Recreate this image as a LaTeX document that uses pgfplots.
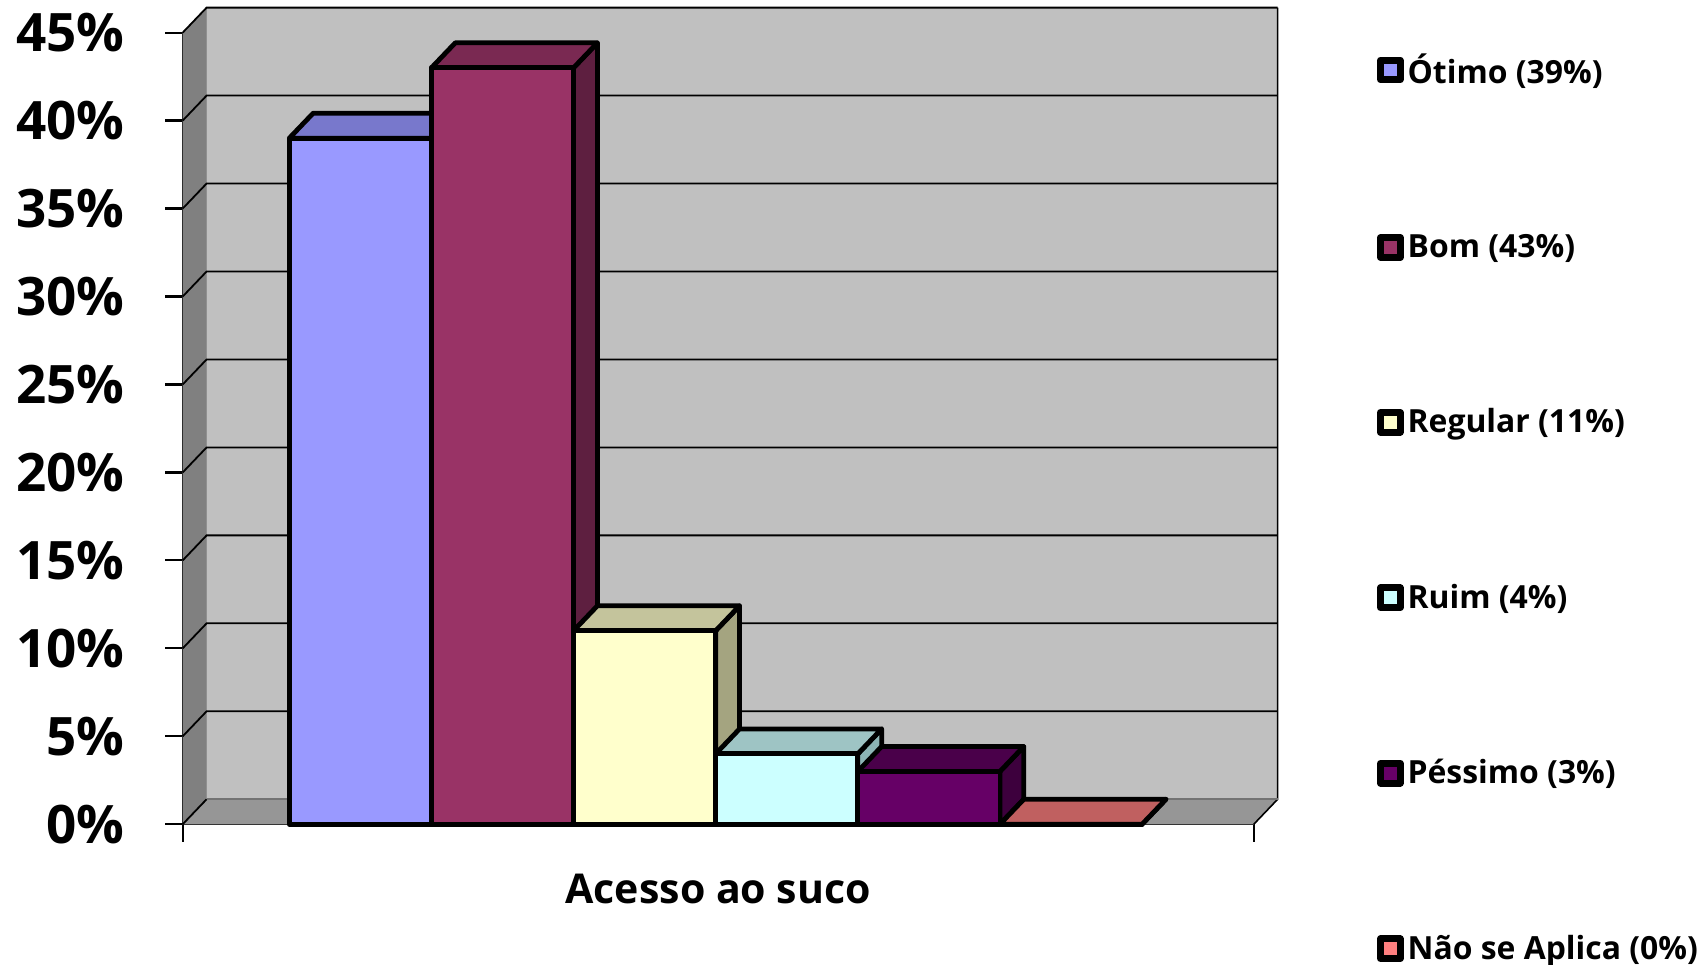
\documentclass[border=0pt]{standalone}
\usepackage{pgfplots}
\pgfplotsset{compat=1.18}
\usepackage{fontspec}
\setmainfont{Open Sans}
\definecolor{wallback}{HTML}{C0C0C0}
\definecolor{wallside}{HTML}{808080}
\definecolor{wallfloor}{HTML}{969696}
\definecolor{cA}{HTML}{9999FF}\definecolor{tA}{HTML}{7878CC}\definecolor{sA}{HTML}{5C5C99}
\definecolor{cB}{HTML}{993366}\definecolor{tB}{HTML}{7A2952}\definecolor{sB}{HTML}{5E1F40}
\definecolor{cC}{HTML}{FFFFCC}\definecolor{tC}{HTML}{C4C49C}\definecolor{sC}{HTML}{A4A480}
\definecolor{cD}{HTML}{CCFFFF}\definecolor{tD}{HTML}{9EC4C4}\definecolor{sD}{HTML}{8CB4B4}
\definecolor{cE}{HTML}{660066}\definecolor{tE}{HTML}{4A004A}\definecolor{sE}{HTML}{3D003D}
\definecolor{cF}{HTML}{FF8080}\definecolor{tF}{HTML}{C06060}\definecolor{sF}{HTML}{994D4D}
\newcommand\bdx{0.168}
\newcommand\bdy{1.42}
\newcommand\xend{7.536}
\newcommand\xendd{7.704}
\newcommand\ytopd{46.42}
\newcommand\shx{11.94bp}
\newcommand\shy{12.49bp}
\pgfplotsset{barface/.style={draw=black, line width=2.4bp, line join=round, forget plot}}
\newcommand\threedbar[5]{%
  \pgfmathsetmacro\xa{#1}%
  \pgfmathsetmacro\xb{#1+1}%
  \pgfmathsetmacro\xad{#1+\bdx}%
  \pgfmathsetmacro\xbd{#1+1+\bdx}%
  \pgfmathsetmacro\xc{#1+0.5}%
  \pgfmathsetmacro\vd{#2+\bdy}%
  \edef\next{%
    \noexpand\addplot[barface, fill=#5] coordinates {(\xb,0) (\xbd,\bdy) (\xbd,\vd) (\xb,#2)} -- cycle;%
    \noexpand\addplot[barface, fill=#4] coordinates {(\xa,#2) (\xb,#2) (\xbd,\vd) (\xad,\vd)} -- cycle;%
    \noexpand\addplot[barface, ybar, bar width=1, bar shift=0, fill=#3] coordinates {(\xc,#2)};%
  }\next}
\begin{document}
\begin{tikzpicture}
\begin{axis}[
  scale only axis, width=535.5bp, height=395.8bp,
  xmin=0, xmax=\xend, ymin=0, ymax=45, enlargelimits=false, clip=false,
  axis x line*=bottom, axis y line*=left,
  axis line style={line width=1.1bp, black},
  tick style={line width=1.1bp, black},
  tick align=outside, major tick length=8.7bp,
  xtick={0,\xend}, xticklabel={\mbox{}},
  ytick={0,5,...,45},
  /pgf/number format/assume math mode=true,
  yticklabel={\pgfmathprintnumber{\tick}\%},
  yticklabel style={font=\fontsize{26.6}{30}\selectfont\bfseries, xshift=-17bp},
  xlabel={Acesso ao suco},
  xlabel style={at={(axis description cs:0.5,-0.1003)}, anchor=base, font=\fontsize{20.6}{24}\selectfont\bfseries},
  legend image code/.code={\draw[#1, draw=black, line width=3.5bp, line join=round] (0bp,-4.9bp) rectangle (9.8bp,4.9bp);},
  legend style={at={(rel axis cs:1.1147,0.979)}, anchor=north west, draw=none, fill=none, inner sep=0pt, row sep=70.1bp, font=\fontsize{16}{19}\selectfont\bfseries, overlay},
  legend cell align=left,
]
% walls
\fill[wallback] (axis cs:\bdx,\bdy) rectangle (axis cs:\xendd,\ytopd);
\fill[wallside] (axis cs:0,0) -- (axis cs:\bdx,\bdy) -- (axis cs:\bdx,\ytopd) -- (axis cs:0,45) -- cycle;
\fill[wallfloor] (axis cs:0,0) -- (axis cs:\xend,0) -- (axis cs:\xendd,\bdy) -- (axis cs:\bdx,\bdy) -- cycle;
\draw[wallback!75!black, line width=0.8bp] (axis cs:\bdx,\bdy) -- (axis cs:\bdx,\ytopd);
\draw[black, line width=0.8bp] (axis cs:\xend,0) -- (axis cs:\xendd,\bdy) -- (axis cs:\xendd,\ytopd);
\pgfplotsinvokeforeach{5,10,...,45}{\draw[black, line width=0.9bp] (axis cs:0,#1) -- ++(\shx,\shy) -- ([xshift=\shx,yshift=\shy]axis cs:\xend,#1);}
\draw[black, line width=0.9bp] (axis cs:0,0) -- ++(\shx,\shy);
\draw[wallback!60!black, line width=0.9bp] ([xshift=\shx,yshift=\shy]axis cs:0,0) -- ([xshift=\shx,yshift=\shy]axis cs:\xend,0);
% bars
\threedbar{0.75}{39}{cA}{tA}{sA}
\threedbar{1.75}{43}{cB}{tB}{sB}
\threedbar{2.75}{11}{cC}{tC}{sC}
\threedbar{3.75}{4}{cD}{tD}{sD}
\threedbar{4.75}{3}{cE}{tE}{sE}
\threedbar{5.75}{0}{cF}{tF}{sF}
% legend
\addlegendimage{fill=cA}\addlegendentry{Ótimo (39\%)}
\addlegendimage{fill=cB}\addlegendentry{Bom (43\%)}
\addlegendimage{fill=cC}\addlegendentry{Regular (11\%)}
\addlegendimage{fill=cD}\addlegendentry{Ruim (4\%)}
\addlegendimage{fill=cE}\addlegendentry{Péssimo (3\%)}
\addlegendimage{fill=cF}\addlegendentry{Não se Aplica (0\%)}
\path (rel axis cs:-0.1706,-0.1772) rectangle (rel axis cs:1.4213,1.0412);
\end{axis}
\end{tikzpicture}
\end{document}
